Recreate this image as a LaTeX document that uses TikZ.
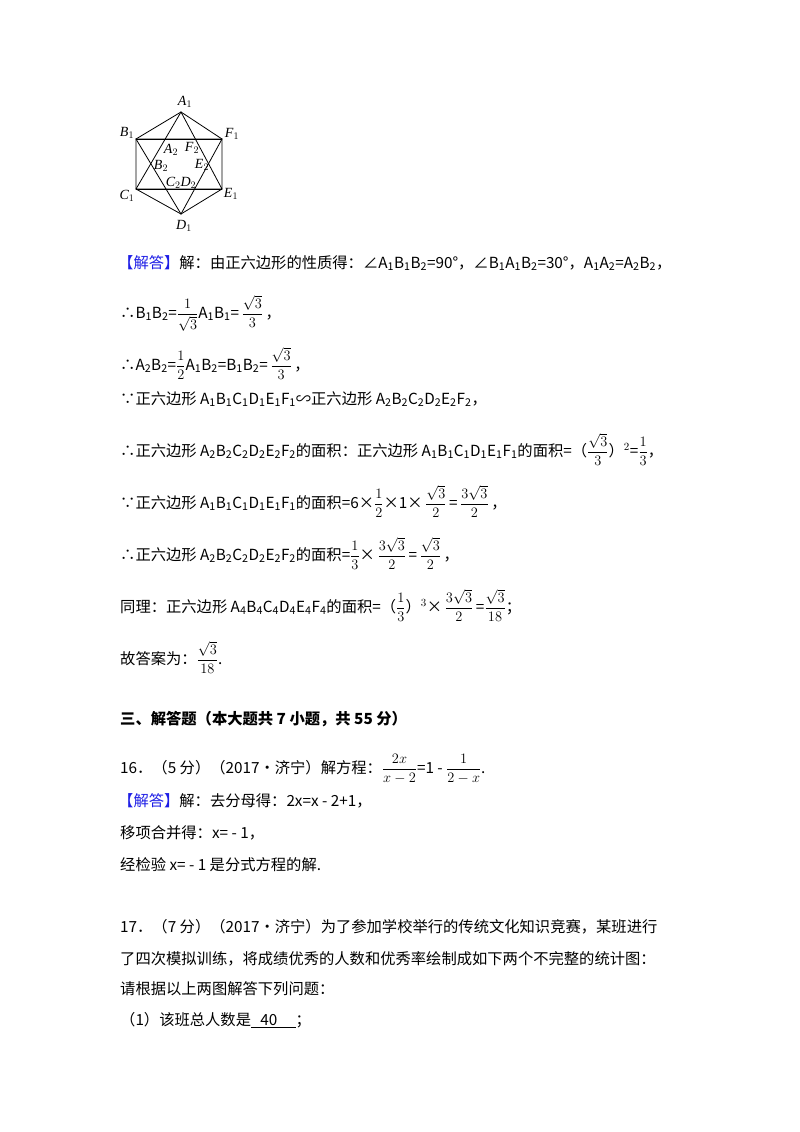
\documentclass[tikz,border=0pt]{standalone}
\usepackage{amsmath}
\usepackage{fontspec}
\setmainfont{Noto Sans CJK SC}
\newfontfamily\tms{Liberation Serif}
\newcommand\Sub[1]{\textsubscript{#1}}
\newcommand\Hex[1]{A\Sub{#1}B\Sub{#1}C\Sub{#1}D\Sub{#1}E\Sub{#1}F\Sub{#1}}
\definecolor{ansblue}{RGB}{30,30,230}
\begin{document}
\begin{tikzpicture}[x=1pt,y=-1pt,
  txt/.style={anchor=base west, inner sep=0pt, font=\fontsize{15.3}{18}\selectfont},
  lab/.style={inner sep=0pt, font=\tms\fontsize{14}{14}\selectfont\itshape},
  edge/.style={line width=0.8pt}]
\useasboundingbox (0,0) rectangle (800,1132);
\fill[white] (0,0) rectangle (800,1132);
% hexagon
\coordinate (A1) at (181,112);
\coordinate (B1) at (136,139);
\coordinate (F1) at (222,139);
\coordinate (C1) at (136,189);
\coordinate (E1) at (222,189);
\coordinate (D1) at (181,214);
\draw[edge] (A1)--(F1)--(E1)--(D1)--(C1)--(B1)--cycle;
\draw[edge] (B1)--(F1) (C1)--(E1);
\draw[edge] (A1)--(C1)--(E1)--cycle;
\draw[edge] (D1)--(B1)--(F1)--cycle;
\node[lab] (lA1) at (185,102) {A$_1$};
\node[lab] (lB1) at (127,133) {B$_1$};
\node[lab] (lF1) at (232,134) {F$_1$};
\node[lab] (lC1) at (127,196) {C$_1$};
\node[lab] (lE1) at (231,194) {E$_1$};
\node[lab] (lD1) at (184,226) {D$_1$};
\node[lab] (lA2) at (171,150) {A$_2$};
\node[lab] (lF2) at (192,148) {F$_2$};
\node[lab] (lB2) at (161,166) {B$_2$};
\node[lab] (lE2) at (202,165) {E$_2$};
\node[lab] (lCD) at (181,183) {C$_2$D$_2$};
% text
\node[txt] (t1) at (118,268) {\textcolor{ansblue}{【解答】}解：由正六边形的性质得：∠A\Sub1B\Sub1B\Sub2=90°，∠B\Sub1A\Sub1B\Sub2=30°，A\Sub1A\Sub2=A\Sub2B\Sub2，};
\node[txt] (t2) at (120,318) {∴B\Sub1B\Sub2=$\dfrac{1}{\sqrt3}$A\Sub1B\Sub1=\,$\dfrac{\sqrt3}{3}$\,，};
\node[txt] (t3) at (120,370) {∴A\Sub2B\Sub2=$\dfrac{1}{2}$A\Sub1B\Sub2=B\Sub1B\Sub2=\,$\dfrac{\sqrt3}{3}$\,，};
\node[txt] (t4) at (120,404) {∵正六边形 \Hex1∽正六边形 \Hex2，};
\node[txt] (t5) at (120,456) {∴正六边形 \Hex2的面积：正六边形 \Hex1的面积=（$\dfrac{\sqrt3}{3}$）$^2$=$\dfrac13$，};
\node[txt] (t6) at (120,508) {∵正六边形 \Hex1的面积=6×$\dfrac12$×1×\,$\dfrac{\sqrt3}{2}$\,=\,$\dfrac{3\sqrt3}{2}$\,，};
\node[txt] (t7) at (120,560) {∴正六边形 \Hex2的面积=$\dfrac13$×\,$\dfrac{3\sqrt3}{2}$\,=\,$\dfrac{\sqrt3}{2}$\,，};
\node[txt] (t8) at (120,612) {同理：正六边形 A\Sub4B\Sub4C\Sub4D\Sub4E\Sub4F\Sub4的面积=（$\dfrac13$）$^3$×\,$\dfrac{3\sqrt3}{2}$\,=$\dfrac{\sqrt3}{18}$；};
\node[txt] (t9) at (120,664) {故答案为：$\dfrac{\sqrt3}{18}$.};
\node[txt,font=\fontsize{15.3}{18}\selectfont\bfseries] (h) at (120,724) {三、解答题（本大题共 7 小题，共 55 分）};
\node[txt] (q16) at (120,773) {16．（5 分）（2017•济宁）解方程：$\dfrac{2x}{x-2}$=1 - $\dfrac{1}{2-x}$.};
\node[txt] (s1) at (118,806) {\textcolor{ansblue}{【解答】}解：去分母得：2x=x - 2+1，};
\node[txt] (s2) at (120,838) {移项合并得：x= - 1，};
\node[txt] (s3) at (120,870) {经检验 x= - 1 是分式方程的解.};
\node[txt] (q17a) at (120,932) {17．（7 分）（2017•济宁）为了参加学校举行的传统文化知识竞赛，某班进行};
\node[txt] (q17b) at (120,964) {了四次模拟训练，将成绩优秀的人数和优秀率绘制成如下两个不完整的统计图：};
\node[txt] (q17c) at (120,994) {请根据以上两图解答下列问题：};
\node[txt] (q17d) at (120,1025) {（1）该班总人数是\underline{\hspace{0.6em}40\hspace{1.2em}}；};
\end{tikzpicture}
\end{document}
